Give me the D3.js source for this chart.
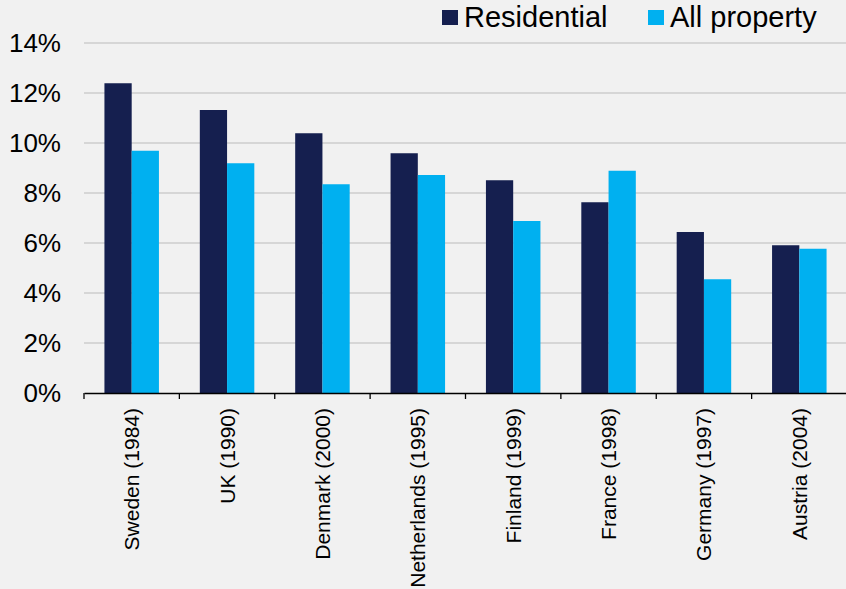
<!DOCTYPE html>
<html>
<head>
<meta charset="utf-8">
<script src="https://cdn.jsdelivr.net/npm/d3@7"></script>
<style>
  html, body { margin: 0; padding: 0; background: #f1f1f1; }
  svg { display: block; font-family: Arial, "Liberation Sans", sans-serif; }
</style>
</head>
<body>
<svg id="chart" width="846" height="589"></svg>
<script>
// Countries (with year) and values in percent
const categories = ["Sweden (1984)", "UK (1990)", "Denmark (2000)", "Netherlands (1995)",
                    "Finland (1999)", "France (1998)", "Germany (1997)", "Austria (2004)"];
const seriesNames = ["Residential", "All property"];
const residential = [12.39, 11.32, 10.39, 9.59, 8.51, 7.63, 6.44, 5.91];
const allProperty = [9.69, 9.19, 8.35, 8.72, 6.88, 8.89, 4.55, 5.77];
const yTicks = [0, 2, 4, 6, 8, 10, 12, 14];
const colors = ["#151f4f", "#00b0f0"];

(function () {
  const svg = d3.select("#chart");
  const W = 846, H = 589;
  svg.append("rect").attr("width", W).attr("height", H).attr("fill", "#f1f1f1");

  const m = { left: 84, right: 847, top: 43, bottom: 393 };

  const x = d3.scaleBand().domain(categories).range([m.left, m.right]).padding(0);
  const x1 = d3.scaleBand().domain(seriesNames).range([0, x.bandwidth()])
    .paddingInner(0).paddingOuter(0.75);
  const y = d3.scaleLinear().domain([0, 14]).range([m.bottom, m.top]);

  // Gridlines
  svg.append("g").selectAll("line").data(yTicks.filter(d => d > 0)).join("line")
    .attr("x1", m.left).attr("x2", W)
    .attr("y1", d => y(d)).attr("y2", d => y(d))
    .attr("stroke", "#cdcdcd").attr("stroke-width", 1.3);

  // Y tick labels
  svg.append("g").selectAll("text").data(yTicks).join("text")
    .attr("x", 61).attr("y", d => y(d)).attr("dy", "0.36em")
    .attr("text-anchor", "end").attr("font-size", 26).attr("fill", "#000")
    .text(d => d + "%");

  // Bars
  const rows = categories.map((c, i) => ({ cat: c, vals: [residential[i], allProperty[i]] }));
  const groups = svg.append("g").selectAll("g").data(rows).join("g")
    .attr("transform", d => `translate(${x(d.cat)},0)`);
  groups.selectAll("rect")
    .data(d => d.vals.map((v, j) => ({ key: seriesNames[j], v, j })))
    .join("rect")
    .attr("x", d => x1(d.key)).attr("width", x1.bandwidth())
    .attr("y", d => y(d.v)).attr("height", d => y(0) - y(d.v))
    .attr("fill", d => colors[d.j]);

  // X axis
  const xAxis = d3.axisBottom(x).tickSize(0).tickFormat("");
  const gx = svg.append("g").attr("transform", `translate(0,${m.bottom})`).call(xAxis);
  gx.select(".domain").attr("stroke", "#000").attr("stroke-width", 1.3);
  // Category separators
  const bounds = categories.map(c => x(c));
  svg.append("g").selectAll("line").data(bounds).join("line")
    .attr("x1", d => d).attr("x2", d => d)
    .attr("y1", m.bottom).attr("y2", m.bottom + 6)
    .attr("stroke", "#000").attr("stroke-width", 1.3);

  // Rotated category labels
  svg.append("g").selectAll("text").data(categories).join("text")
    .attr("transform", d => `translate(${x(d) + x.bandwidth() / 2 + 7.5},${m.bottom + 15}) rotate(-90)`)
    .attr("text-anchor", "end").attr("font-size", 21).attr("fill", "#000")
    .text(d => d);

  // Legend
  const legend = [{ name: "Residential", sx: 442, tx: 464 }, { name: "All property", sx: 648, tx: 670 }];
  const lg = svg.append("g");
  lg.selectAll("rect").data(legend).join("rect")
    .attr("x", d => d.sx).attr("y", 10).attr("width", 16).attr("height", 15)
    .attr("fill", (d, i) => colors[i]);
  lg.selectAll("text").data(legend).join("text")
    .attr("x", d => d.tx).attr("y", 27).attr("font-size", 29).attr("fill", "#000")
    .text(d => d.name);
})();
</script>
</body>
</html>
